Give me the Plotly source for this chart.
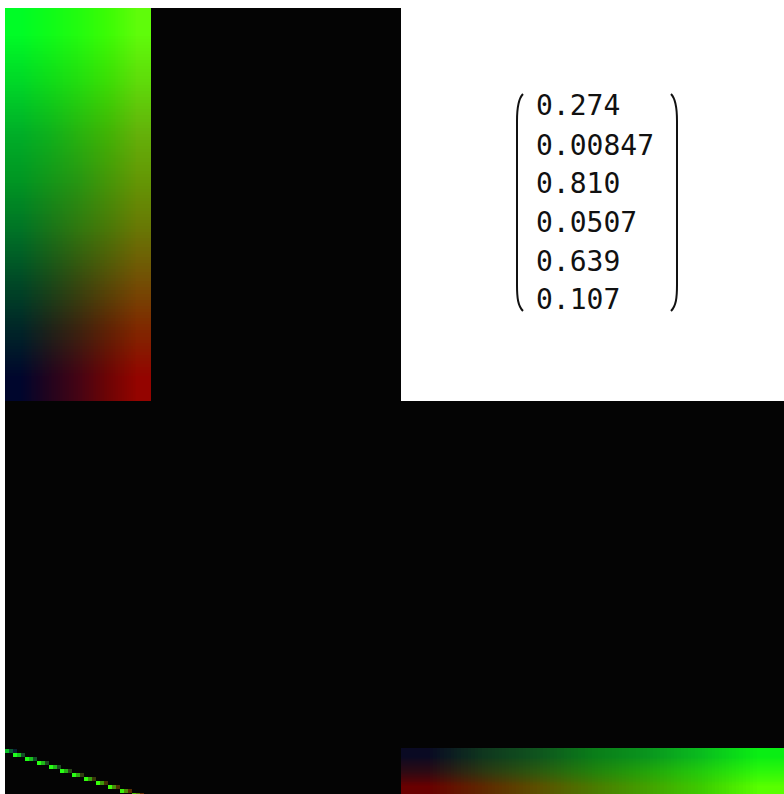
import base64
import struct
import zlib
import plotly.graph_objects as go

W, H = 784, 794

# ---------------- data ----------------
# Top-left colour map: rows top->bottom, columns left->right (R,G,B)
TL_ROW0 = [(0, 252, 38), (15, 252, 25), (35, 252, 15), (60, 252, 5), (95, 252, 10)]
TL_ROW1 = [(0, 215, 40), (15, 218, 25), (35, 220, 15), (60, 220, 5), (95, 218, 10)]
TL_ROW2 = [(0, 175, 40), (15, 178, 28), (40, 180, 15), (65, 180, 5), (100, 178, 10)]
TL_ROW3 = [(0, 150, 35), (20, 150, 25), (40, 150, 18), (70, 150, 8), (100, 150, 5)]
TL_ROW4 = [(0, 115, 38), (25, 115, 25), (50, 118, 15), (75, 118, 8), (105, 118, 5)]
TL_ROW5 = [(0, 75, 38), (25, 75, 25), (55, 75, 15), (85, 78, 8), (115, 80, 5)]
TL_ROW6 = [(0, 38, 40), (30, 35, 25), (60, 35, 15), (95, 35, 5), (128, 40, 0)]
TL_ROW7 = [(0, 6, 45), (35, 4, 30), (70, 4, 20), (110, 4, 5), (148, 4, 0)]
TL_IMAGE = [TL_ROW0, TL_ROW1, TL_ROW2, TL_ROW3, TL_ROW4, TL_ROW5, TL_ROW6, TL_ROW7]

# Bottom-right colour strip: rows top->bottom
BR_TOP = [(10, 10, 35), (15, 55, 30), (15, 85, 30), (10, 125, 25), (10, 150, 30), (10, 190, 30), (10, 238, 20)]
BR_MID = [(45, 10, 20), (45, 55, 18), (45, 90, 15), (35, 130, 12), (35, 165, 10), (35, 205, 12), (45, 248, 10)]
BR_BOT = [(105, 0, 0), (95, 40, 0), (92, 80, 0), (75, 122, 0), (68, 162, 0), (62, 205, 0), (88, 255, 0)]
BR_IMAGE = [BR_TOP, BR_MID, BR_BOT]

# Bottom-left dashed diagonal: segment start (x, y) in panel pixel units
DIAG_X = [0, 8, 20, 32, 44, 55, 67, 79, 91, 103, 115, 127]
DIAG_Y = [348, 352, 356, 360, 364, 368, 372, 376, 380, 384, 388, 392]
DIAG_BRIGHT = ["#0abe28", "#1eff1e", "#1eff14", "#28ff14", "#28ff14", "#28ff14",
               "#28ff14", "#30ff0c", "#38ff0a", "#40ff0a", "#3cf00a", "#46c800"]
DIAG_MID = ["#0a5a32", "#18c81e", "#18c01e", "#20b81a", "#20b81a", "#28b016",
            "#30a812", "#38a00e", "#40980a", "#48900a", "#508a06", "#5a8004"]
DIAG_DARK = ["#0a1e32", "#145028", "#145028", "#1c4a20", "#1c4a20", "#284418",
             "#303e10", "#3a380a", "#443206", "#4e3004", "#582c02", "#602a00"]

MATRIX_VALUES = ["0.274", "0.00847", "0.810", "0.0507", "0.639", "0.107"]
MATRIX_ROW_Y = [106, 145, 183, 222, 261, 299]


def png_data_uri(rows):
    h = len(rows)
    w = len(rows[0])
    raw = b"".join(b"\x00" + bytes([c for px in row for c in px]) for row in rows)

    def chunk(tag, data):
        return (struct.pack(">I", len(data)) + tag + data
                + struct.pack(">I", zlib.crc32(tag + data) & 0xFFFFFFFF))

    png = (b"\x89PNG\r\n\x1a\n"
           + chunk(b"IHDR", struct.pack(">IIBBBBB", w, h, 8, 2, 0, 0, 0))
           + chunk(b"IDAT", zlib.compress(raw))
           + chunk(b"IEND", b""))
    return "data:image/png;base64," + base64.b64encode(png).decode()


fig = go.Figure()

# ---- top-left image ----
TL_W, TL_H = 146.0, 393.0
tl_cols, tl_rows = len(TL_IMAGE[0]), len(TL_IMAGE)
fig.add_trace(go.Image(
    source=png_data_uri(TL_IMAGE), zsmooth="fast",
    x0=TL_W / tl_cols / 2, dx=TL_W / tl_cols,
    y0=TL_H / tl_rows / 2, dy=TL_H / tl_rows,
    xaxis="x", yaxis="y", hoverinfo="skip"))

# ---- bottom-right strip ----
BR_W, BR_H = 385.0, 46.0
br_cols, br_rows = len(BR_IMAGE[0]), len(BR_IMAGE)
fig.add_trace(go.Image(
    source=png_data_uri(BR_IMAGE), zsmooth="fast",
    x0=-2 + BR_W / br_cols / 2, dx=BR_W / br_cols,
    y0=347 + BR_H / br_rows / 2, dy=BR_H / br_rows,
    xaxis="x3", yaxis="y3", hoverinfo="skip"))

# ---- bottom-left dashed diagonal ----
for k, colors in enumerate([DIAG_BRIGHT, DIAG_MID, DIAG_DARK]):
    fig.add_trace(go.Scatter(
        x=[x + 2 + 4 * k for x in DIAG_X],
        y=[y + 2 for y in DIAG_Y],
        mode="markers",
        marker=dict(symbol="square", size=4, color=colors, line=dict(width=0)),
        xaxis="x2", yaxis="y2", hoverinfo="skip", showlegend=False))

# ---- matrix text ----
annotations = []
for v, yy in zip(MATRIX_VALUES, MATRIX_ROW_Y):
    annotations.append(dict(
        text=v, x=534 / W, y=1 - yy / H, xref="paper", yref="paper",
        xanchor="left", yanchor="middle", showarrow=False,
        font=dict(family="DejaVu Sans Mono", size=28, color="#111111")))


def px(x, y):
    return f"{x / W:.5f},{1 - y / H:.5f}"


left_paren = (f"M {px(523, 94)} C {px(518, 99)} {px(517, 108)} {px(517, 121)} "
              f"L {px(517, 285)} C {px(517, 298)} {px(518, 306)} {px(523, 311)}")
right_paren = (f"M {px(671, 94)} C {px(676, 99)} {px(677, 108)} {px(677, 121)} "
               f"L {px(677, 285)} C {px(677, 298)} {px(676, 306)} {px(671, 311)}")
shapes = [dict(type="path", path=p, xref="paper", yref="paper",
               line=dict(color="#111111", width=2)) for p in (left_paren, right_paren)]

ax_common = dict(visible=False, showgrid=False, zeroline=False, fixedrange=True)
fig.update_layout(
    width=W, height=H, autosize=False,
    margin=dict(l=0, r=0, t=0, b=0, pad=0),
    paper_bgcolor="white", plot_bgcolor="#040404",
    showlegend=False,
    xaxis=dict(domain=[5 / W, 401 / W], range=[0, 396], **ax_common),
    yaxis=dict(domain=[1 - 401 / H, 1 - 8 / H], range=[393, 0], anchor="x", **ax_common),
    xaxis2=dict(domain=[5 / W, 401 / W], range=[0, 396], anchor="y2", **ax_common),
    yaxis2=dict(domain=[0, 1 - 401 / H], range=[393, 0], anchor="x2", **ax_common),
    xaxis3=dict(domain=[401 / W, 1], range=[0, 383], anchor="y3", **ax_common),
    yaxis3=dict(domain=[0, 1 - 401 / H], range=[393, 0], anchor="x3", **ax_common),
    annotations=annotations, shapes=shapes,
)

fig.write_html(
    "out.html",
    config={"displayModeBar": False},
    post_script="document.documentElement.style.margin='0';"
                "document.body.style.margin='0';document.body.style.overflow='hidden';",
)
